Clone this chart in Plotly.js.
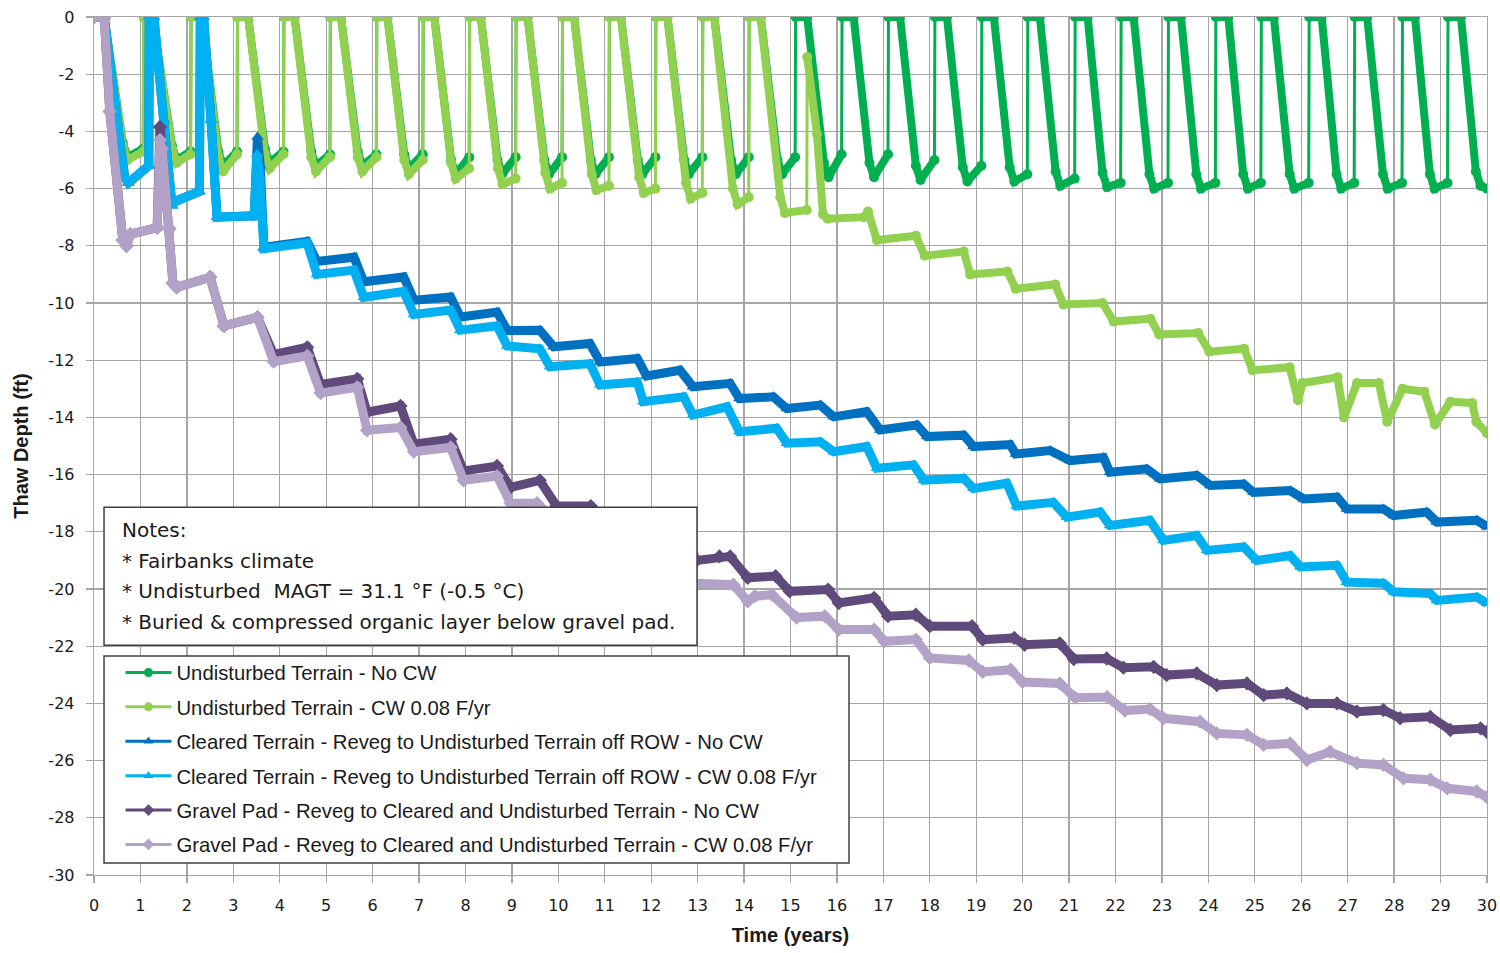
<!DOCTYPE html>
<html>
<head>
<meta charset="utf-8">
<script src="https://cdn.plot.ly/plotly-3.0.1.min.js"></script>
<style>html,body{margin:0;padding:0;background:#fff;}#chart{width:1500px;height:953px;}</style>
</head>
<body>
<div id="chart"></div>
<script>
// ---- Series names ----
const seriesNames = [
  'Undisturbed Terrain - No CW',
  'Undisturbed Terrain - CW 0.08 F/yr',
  'Cleared Terrain - Reveg to Undisturbed Terrain off ROW - No CW',
  'Cleared Terrain - Reveg to Undisturbed Terrain off ROW - CW 0.08 F/yr',
  'Gravel Pad - Reveg to Cleared and Undisturbed Terrain - No CW',
  'Gravel Pad - Reveg to Cleared and Undisturbed Terrain - CW 0.08 F/yr'
];

// ---- Data: [time (years), thaw depth (ft)] ----
const undisturbedNoCW = [
  [0,0],[0.22,0],[0.62,-4.4],[0.72,-4.9],[1.06,-4.6],
  [1.07,0],[1.26,0],[1.68,-4.5],[1.78,-5.0],[2.08,-4.7],
  [2.09,0],[2.32,0],[2.68,-4.7],[2.78,-5.2],[3.08,-4.7],
  [3.09,0],[3.32,0],[3.68,-4.6],[3.78,-5.1],[4.08,-4.7],
  [4.09,0],[4.32,0],[4.68,-4.7],[4.78,-5.2],[5.08,-4.8],
  [5.09,0],[5.32,0],[5.68,-4.7],[5.78,-5.2],[6.08,-4.8],
  [6.09,0],[6.32,0],[6.68,-4.8],[6.78,-5.3],[7.08,-4.8],
  [7.09,0],[7.33,0],[7.69,-5.0],[7.79,-5.5],[8.08,-4.9],
  [8.09,0],[8.33,0],[8.69,-5.0],[8.79,-5.5],[9.08,-4.9],
  [9.09,0],[9.34,0],[9.70,-5.0],[9.80,-5.5],[10.08,-4.9],
  [10.09,0],[10.34,0],[10.70,-5.0],[10.80,-5.5],[11.09,-4.9],
  [11.10,0],[11.35,0],[11.71,-5.0],[11.81,-5.5],[12.09,-4.9],
  [12.10,0],[12.35,0],[12.71,-5.0],[12.81,-5.5],[13.10,-4.9],
  [13.11,0],[13.36,0],[13.72,-5.0],[13.82,-5.5],[14.10,-4.9],
  [14.11,0],[14.36,0],[14.72,-5.0],[14.82,-5.5],[15.10,-4.9],
  [15.11,0],[15.36,0],[15.72,-5.1],[15.82,-5.6],[16.10,-4.8],
  [16.11,0],[16.36,0],[16.70,-5.1],[16.80,-5.6],[17.10,-4.8],
  [17.11,0],[17.36,0],[17.70,-5.2],[17.80,-5.7],[18.10,-5.0],
  [18.11,0],[18.37,0],[18.71,-5.25],[18.81,-5.75],[19.11,-5.2],
  [19.12,0],[19.38,0],[19.72,-5.25],[19.82,-5.75],[20.10,-5.5],
  [20.11,0],[20.37,0],[20.71,-5.4],[20.81,-5.9],[21.12,-5.65],
  [21.13,0],[21.40,0],[21.72,-5.45],[21.82,-5.95],[22.11,-5.8],
  [22.12,0],[22.39,0],[22.73,-5.5],[22.83,-6.0],[23.13,-5.8],
  [23.14,0],[23.41,0],[23.74,-5.5],[23.84,-6.0],[24.15,-5.8],
  [24.16,0],[24.43,0],[24.75,-5.5],[24.85,-6.0],[25.13,-5.8],
  [25.14,0],[25.41,0],[25.75,-5.5],[25.85,-6.0],[26.16,-5.8],
  [26.17,0],[26.44,0],[26.76,-5.5],[26.86,-6.0],[27.14,-5.8],
  [27.15,0],[27.42,0],[27.76,-5.5],[27.86,-6.0],[28.17,-5.8],
  [28.18,0],[28.45,0],[28.77,-5.5],[28.87,-6.0],[29.15,-5.8],
  [29.16,0],[29.44,0],[29.76,-5.4],[29.86,-5.9],[30,-6.0]
];

const undisturbedCW = [
  [0,0],[0.22,0],[0.62,-4.5],[0.72,-5.0],[1.06,-4.7],
  [1.07,0],[1.26,0],[1.68,-4.6],[1.78,-5.1],[2.08,-4.8],
  [2.09,0],[2.32,0],[2.68,-4.9],[2.78,-5.4],[3.08,-4.8],
  [3.09,0],[3.32,0],[3.68,-4.8],[3.78,-5.3],[4.08,-4.8],
  [4.09,0],[4.32,0],[4.68,-4.9],[4.78,-5.4],[5.08,-4.9],
  [5.09,0],[5.32,0],[5.68,-4.9],[5.78,-5.4],[6.08,-4.9],
  [6.09,0],[6.32,0],[6.68,-5.0],[6.78,-5.5],[7.08,-5.0],
  [7.09,0],[7.33,0],[7.69,-5.1],[7.79,-5.65],[8.08,-5.3],
  [8.09,0],[8.33,0],[8.70,-5.3],[8.80,-5.85],[9.08,-5.65],
  [9.09,0],[9.34,0],[9.72,-5.45],[9.82,-6.0],[10.08,-5.8],
  [10.09,0],[10.34,0],[10.72,-5.5],[10.82,-6.05],[11.09,-5.9],
  [11.10,0],[11.35,0],[11.74,-5.6],[11.84,-6.15],[12.09,-6.0],
  [12.10,0],[12.35,0],[12.75,-5.8],[12.85,-6.35],[13.10,-6.15],
  [13.11,0],[13.36,0],[13.76,-6.0],[13.86,-6.55],[14.10,-6.3],
  [14.11,0],[14.36,0],[14.78,-6.3],[14.88,-6.85],[15.35,-6.75],
  [15.36,-1.4],[15.57,-4.1],[15.70,-6.9],[15.80,-7.05],[16.58,-7.0],
  [16.67,-6.8],[16.86,-7.8],[17.70,-7.65],[17.89,-8.35],[18.73,-8.2],
  [18.87,-9.0],[19.67,-8.9],[19.85,-9.5],[20.70,-9.35],[20.88,-10.05],
  [21.72,-10.0],[21.96,-10.65],[22.75,-10.55],[22.94,-11.1],[23.78,-11.05],
  [24.02,-11.7],[24.77,-11.6],[24.95,-12.35],[25.75,-12.25],[25.93,-13.4],
  [26.03,-12.8],[26.78,-12.6],[26.92,-14.0],[27.20,-12.8],[27.67,-12.8],
  [27.85,-14.15],[28.18,-13.0],[28.65,-13.1],[28.88,-14.25],[29.21,-13.45],
  [29.68,-13.5],[29.77,-14.15],[30,-14.55]
];

const clearedNoCW = [
  [0,0],[0.22,0],[0.45,-3.0],[0.66,-5.6],[0.74,-5.8],[1.18,-5.2],
  [1.19,0],[1.29,0],[1.50,-3.6],[1.68,-6.6],[1.74,-6.45],[2.27,-6.1],
  [2.29,0],[2.36,0],[2.52,-3.6],[2.65,-7.0],[3.45,-6.95],
  [3.52,-4.2],[3.58,-5.2],[3.66,-8.05],[4.59,-7.85],
  [4.80,-8.55],[5.60,-8.4],[5.81,-9.26],[6.67,-9.09],[6.89,-9.9],[7.68,-9.79],
  [7.89,-10.49],[8.68,-10.32],[8.90,-10.96],[9.60,-10.95],[9.90,-11.53],[10.68,-11.42],
  [10.90,-12.06],[11.70,-11.94],[11.90,-12.55],[12.62,-12.35],[12.90,-12.93],[13.70,-12.81],
  [13.90,-13.34],[14.63,-13.28],[14.92,-13.69],[15.64,-13.57],[15.93,-13.98],[16.64,-13.8],
  [16.93,-14.44],[17.72,-14.27],[17.94,-14.67],[18.73,-14.62],[18.94,-15.02],[19.73,-14.95],
  [19.85,-15.28],[20.59,-15.16],[21.02,-15.51],[21.74,-15.4],[21.88,-15.92],[22.67,-15.8],
  [22.96,-16.15],[23.75,-16.03],[24.04,-16.38],[24.76,-16.33],[24.97,-16.62],[25.76,-16.56],
  [26.05,-16.85],[26.77,-16.79],[26.98,-17.2],[27.77,-17.2],[27.99,-17.43],[28.70,-17.31],
  [28.92,-17.66],[29.78,-17.6],[30,-17.82]
];

const clearedCW = [
  [0,0],[0.22,0],[0.45,-3.0],[0.66,-5.6],[0.74,-5.8],[1.18,-5.2],
  [1.19,0],[1.29,0],[1.50,-3.6],[1.68,-6.6],[1.74,-6.45],[2.27,-6.1],
  [2.29,0],[2.36,0],[2.52,-3.6],[2.65,-7.0],[3.45,-6.95],
  [3.51,-4.8],[3.57,-5.6],[3.66,-8.1],[4.59,-7.9],
  [4.80,-9.0],[5.60,-8.85],[5.81,-9.8],[6.67,-9.6],[6.89,-10.4],[7.68,-10.25],
  [7.89,-10.95],[8.68,-10.8],[8.90,-11.5],[9.60,-11.6],[9.82,-12.23],[10.68,-12.12],
  [10.90,-12.87],[11.70,-12.76],[11.83,-13.45],[12.70,-13.28],[12.90,-13.92],[13.63,-13.63],
  [13.90,-14.5],[14.70,-14.38],[14.92,-14.9],[15.64,-14.85],[15.93,-15.2],[16.64,-15.02],
  [16.86,-15.78],[17.65,-15.66],[17.87,-16.19],[18.73,-16.13],[18.94,-16.48],[19.66,-16.3],
  [19.87,-17.1],[20.66,-16.97],[20.95,-17.49],[21.67,-17.31],[21.88,-17.78],[22.74,-17.6],
  [23.03,-18.3],[23.75,-18.13],[23.97,-18.65],[24.76,-18.53],[25.04,-19.0],[25.76,-18.83],
  [25.98,-19.23],[26.77,-19.17],[26.98,-19.76],[27.77,-19.8],[27.99,-20.1],[28.78,-20.16],
  [28.92,-20.4],[29.78,-20.28],[30,-20.5]
];

const gravelNoCW = [
  [0,0],[0.22,0],[0.34,-3.3],[0.62,-7.8],[0.70,-8.0],[0.78,-7.6],[1.36,-7.36],
  [1.42,-3.85],[1.47,-4.6],[1.62,-7.4],[1.70,-9.3],[1.78,-9.45],[2.50,-9.1],
  [2.80,-10.8],[3.52,-10.5],[3.87,-11.8],[4.59,-11.55],[4.88,-12.85],[5.67,-12.65],
  [5.88,-13.82],[6.60,-13.6],[6.89,-14.94],[7.68,-14.76],[7.96,-15.87],[8.68,-15.7],
  [8.97,-16.45],[9.60,-16.2],[9.96,-17.1],[10.70,-17.1],[10.95,-17.7],[11.70,-17.6],
  [11.95,-18.25],[12.70,-18.15],[12.98,-19.0],[13.47,-18.86],[13.70,-18.86],[14.08,-19.61],
  [14.68,-19.55],[14.98,-20.08],[15.81,-20.02],[16.04,-20.49],[16.80,-20.31],[17.10,-20.95],
  [17.70,-20.9],[18.00,-21.3],[18.91,-21.3],[19.14,-21.77],[19.82,-21.71],[20.04,-21.95],
  [20.80,-21.9],[21.10,-22.45],[21.81,-22.43],[22.17,-22.75],[22.82,-22.72],[23.10,-23.01],
  [23.75,-22.95],[24.18,-23.36],[24.83,-23.3],[25.19,-23.71],[25.69,-23.65],[26.12,-24.0],
  [26.77,-24.0],[27.20,-24.29],[27.77,-24.23],[28.13,-24.52],[28.78,-24.47],[29.21,-24.93],
  [29.86,-24.87],[30,-25.0]
];

const gravelCW = [
  [0,0],[0.22,0],[0.34,-3.3],[0.62,-7.8],[0.70,-8.0],[0.78,-7.6],[1.36,-7.36],
  [1.42,-4.3],[1.47,-4.6],[1.62,-7.4],[1.70,-9.3],[1.78,-9.45],[2.50,-9.1],
  [2.80,-10.8],[3.52,-10.5],[3.87,-12.05],[4.59,-11.85],[4.88,-13.15],[5.67,-12.95],
  [5.88,-14.45],[6.60,-14.35],[6.89,-15.2],[7.68,-15.05],[7.96,-16.2],[8.68,-16.05],
  [8.97,-17.0],[9.54,-17.0],[9.95,-17.6],[10.70,-17.5],[10.95,-18.3],[11.70,-18.2],
  [11.95,-19.0],[12.70,-18.9],[12.95,-19.8],[13.77,-19.85],[14.08,-20.43],[14.23,-20.25],
  [14.60,-20.2],[15.13,-21.0],[15.74,-20.95],[16.04,-21.42],[16.80,-21.42],[17.02,-21.83],
  [17.70,-21.77],[18.00,-22.41],[18.84,-22.5],[19.14,-22.9],[19.74,-22.82],[20.00,-23.25],
  [20.80,-23.3],[21.13,-23.8],[21.82,-23.78],[22.20,-24.25],[22.74,-24.2],[23.03,-24.52],
  [23.82,-24.64],[24.18,-25.05],[24.83,-25.1],[25.19,-25.45],[25.76,-25.4],[26.12,-25.98],
  [26.62,-25.69],[27.20,-26.09],[27.77,-26.15],[28.20,-26.62],[28.78,-26.67],[29.14,-26.97],
  [29.78,-27.08],[30,-27.28]
];

// ---- Tick labels ----
const xTickVals = [0,1,2,3,4,5,6,7,8,9,10,11,12,13,14,15,16,17,18,19,20,21,22,23,24,25,26,27,28,29,30];
const yTickVals = [0,-2,-4,-6,-8,-10,-12,-14,-16,-18,-20,-22,-24,-26,-28,-30];
const yTickText = ['0','-2','-4','-6','-8','-10','-12','-14','-16','-18','-20','-22','-24','-26','-28','-30'];

const noteLines = [
  'Notes:',
  '* Fairbanks climate',
  '* Undisturbed \u00a0MAGT = 31.1 \u00b0F (-0.5 \u00b0C)',
  '* Buried &amp; compressed organic layer below gravel pad.'
];

// ---- Styles ----
const allData = [undisturbedNoCW, undisturbedCW, clearedNoCW, clearedCW, gravelNoCW, gravelCW];
const colors = ['#00B050', '#92D050', '#0070C0', '#00B0F0', '#604A7B', '#B3A2C7'];
const symbols = ['circle', 'circle', 'triangle-up', 'triangle-up', 'diamond', 'diamond'];
const lineWidths = [8, 8, 9, 9, 9, 9];
const markerSizes = [10, 10, 11, 11, 11, 11];
const cyclic = [true, true, false, false, false, false];

// thick segments without the thin vertical "reset" jumps (cyclic series only)
function thickPart(d) {
  const xs = [], ys = [];
  for (let k = 0; k < d.length; k++) {
    if (k > 0 && d[k][1] - d[k - 1][1] > 3) { xs.push(null); ys.push(null); }
    xs.push(d[k][0]); ys.push(d[k][1]);
  }
  return {x: xs, y: ys};
}

const traces = [];
allData.forEach((d, i) => {
  const xs = d.map(p => p[0]), ys = d.map(p => p[1]);
  if (cyclic[i]) {
    traces.push({
      type: 'scatter', mode: 'lines', x: xs, y: ys,
      line: {color: colors[i], width: 3},
      showlegend: false, hoverinfo: 'skip'
    });
    const t = thickPart(d);
    traces.push({
      type: 'scatter', mode: 'lines+markers', x: t.x, y: t.y, connectgaps: false,
      line: {color: colors[i], width: lineWidths[i]},
      marker: {color: colors[i], symbol: symbols[i], size: markerSizes[i]},
      showlegend: false, hoverinfo: 'skip'
    });
  } else {
    traces.push({
      type: 'scatter', mode: 'lines+markers', x: xs, y: ys,
      line: {color: colors[i], width: lineWidths[i]},
      marker: {color: colors[i], symbol: symbols[i], size: markerSizes[i]},
      showlegend: false, hoverinfo: 'skip'
    });
  }
});
// legend entries (thin line + marker, like the reference legend)
allData.forEach((d, i) => {
  traces.push({
    type: 'scatter', mode: 'lines+markers',
    x: [null], y: [null],
    name: seriesNames[i], legendgroup: 'g' + i,
    line: {color: colors[i], width: 3},
    marker: {color: colors[i], symbol: symbols[i], size: 9},
    showlegend: true
  });
});

const gridC = '#A6A6A6';
const noteY = [0.4021, 0.3660, 0.3310, 0.2949];
const annotations = noteLines.map((t, i) => ({
  xref: 'paper', yref: 'paper', x: 0.0190, y: noteY[i],
  xanchor: 'left', yanchor: 'middle', showarrow: false, text: t,
  font: {family: 'DejaVu Sans', size: 20, color: '#1a1a1a'}
}));

const layout = {
  width: 1500, height: 953,
  margin: {l: 94, r: 13, t: 17, b: 78},
  paper_bgcolor: '#ffffff', plot_bgcolor: '#ffffff',
  showlegend: true,
  xaxis: {
    range: [0, 30], tickmode: 'array', tickvals: xTickVals,
    showgrid: true, gridcolor: gridC, gridwidth: 1.3,
    showline: true, linecolor: gridC, linewidth: 1.3, mirror: true,
    zeroline: false, ticks: 'outside', ticklen: 7, tickcolor: gridC, tickwidth: 1.3,
    ticklabelstandoff: 8,
    tickfont: {family: 'DejaVu Sans', size: 16, color: '#1a1a1a'},
    title: {text: 'Time (years)', standoff: 14,
            font: {family: 'Liberation Sans', size: 20, color: '#1a1a1a', weight: 'bold'}}
  },
  yaxis: {
    range: [-30, 0], tickmode: 'array', tickvals: yTickVals, ticktext: yTickText,
    showgrid: true, gridcolor: gridC, gridwidth: 1.3,
    showline: true, linecolor: gridC, linewidth: 1.3, mirror: true,
    zeroline: false, ticks: 'outside', ticklen: 7, tickcolor: gridC, tickwidth: 1.3,
    ticklabelstandoff: 8,
    tickfont: {family: 'DejaVu Sans', size: 16, color: '#1a1a1a'},
    title: {text: 'Thaw Depth (ft)', standoff: 14,
            font: {family: 'Liberation Sans', size: 20, color: '#1a1a1a', weight: 'bold'}}
  },
  legend: {
    x: 0.0190, y: 0.2590, xanchor: 'left', yanchor: 'top',
    bgcolor: 'rgba(0,0,0,0)', borderwidth: 0,
    font: {family: 'Liberation Sans', size: 20.3, color: '#1a1a1a'},
    traceorder: 'grouped', tracegroupgap: 5, itemwidth: 46
  },
  shapes: [
    {type: 'rect', xref: 'paper', yref: 'paper',
     x0: 0.0072, x1: 0.4329, y0: 0.2679, y1: 0.4287,
     fillcolor: '#ffffff', line: {color: '#404040', width: 1.5}, layer: 'above'},
    {type: 'rect', xref: 'paper', yref: 'paper',
     x0: 0.0072, x1: 0.5420, y0: 0.0140, y1: 0.2553,
     fillcolor: '#ffffff', line: {color: '#404040', width: 1.5}, layer: 'above'}
  ],
  annotations: annotations
};

Plotly.newPlot('chart', traces, layout, {displayModeBar: false, staticPlot: true});
</script>
</body>
</html>
